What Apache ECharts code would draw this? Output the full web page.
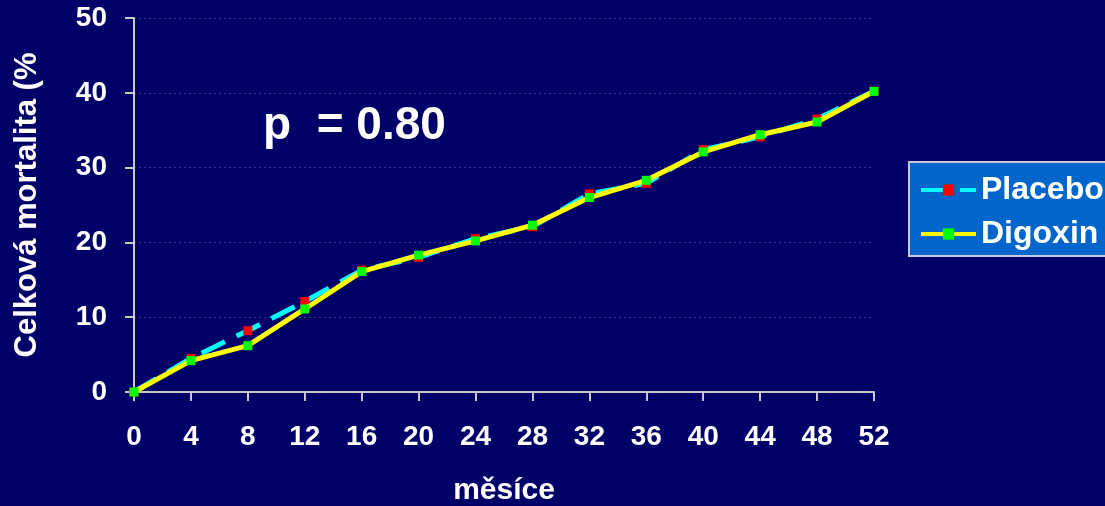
<!DOCTYPE html>
<html><head><meta charset="utf-8">
<script src="https://cdn.jsdelivr.net/npm/echarts@6/dist/echarts.min.js"></script>
<style>html,body{margin:0;padding:0;background:#000068;}#c{width:1105px;height:506px;}</style>
</head><body><div id="c"></div>
<script>
const months = [0,4,8,12,16,20,24,28,32,36,40,44,48,52];
const placebo = [0,4.5,8.2,12.1,16.3,18.0,20.5,22.1,26.5,27.9,32.4,34.1,36.5,40.2];
const digoxin = [0,4.2,6.2,11.1,16.1,18.3,20.2,22.3,26.0,28.3,32.1,34.4,36.1,40.2];
const yTicks = [0,10,20,30,40,50];
const pText = 'p  = 0.80';

const chart = echarts.init(document.getElementById('c'));
const font = '"Liberation Sans", Arial, sans-serif';
chart.setOption({
  backgroundColor: '#000068',
  animation: false,
  grid: {left: 134, right: 231, top: 18, bottom: 114, containLabel: false, outerBoundsMode: 'none'},
  graphic: [{type:'text', left: 263, top: 103, style:{text: pText, fill:'#fff', font:'bold 46px ' + font}}],
  legend: {
    orient: 'vertical', left: 909, top: 162,
    backgroundColor: '#0066CC', borderColor: '#C8C8D8', borderWidth: 2,
    padding: [12, 12, 6, 10], itemGap: 12, itemWidth: 55, itemHeight: 14,
    lineStyle: {width: 4},
    textStyle: {color:'#fff', fontSize: 32, fontWeight:'bold', fontFamily: font},
    data: ['Placebo','Digoxin']
  },
  xAxis: {
    type: 'value', min: 0, max: 52, interval: 4,
    name: 'měsíce', nameLocation: 'middle', nameGap: 84,
    nameTextStyle: {color:'#fff', fontSize: 30, fontWeight:'bold', fontFamily: font},
    axisLine: {lineStyle:{color:'#C8C8C8', width:2}},
    axisTick: {length: 9, lineStyle:{color:'#C8C8C8', width:2}},
    axisLabel: {color:'#fff', fontSize: 28, fontWeight:'bold', fontFamily: font, margin: 31},
    splitLine: {show:false}
  },
  yAxis: {
    type: 'value', min: 0, max: 50, interval: 10,
    name: 'Celková mortalita (%', nameLocation: 'middle', nameGap: 91, nameRotate: 90,
    nameTextStyle: {color:'#fff', fontSize: 31, fontWeight:'bold', fontFamily: font},
    axisLine: {show:true, lineStyle:{color:'#C8C8C8', width:2}},
    axisTick: {show:true, length: 9, lineStyle:{color:'#C8C8C8', width:2}},
    axisLabel: {color:'#fff', fontSize: 28, fontWeight:'bold', fontFamily: font, margin: 27},
    splitLine: {show:true, lineStyle:{color:'#3A3A8A', type:[2,3], width:1}}
  },
  series: [
    {name:'Placebo', type:'line', data: months.map((m,i)=>[m, placebo[i]]),
     symbol:'rect', symbolSize: 9, lineStyle:{color:'#00FFFF', width:5, type:[26,13]},
     itemStyle:{color:'#FF0000'}, z: 2},
    {name:'Digoxin', type:'line', data: months.map((m,i)=>[m, digoxin[i]]),
     symbol:'rect', symbolSize: 9, lineStyle:{color:'#FFFF00', width:5},
     itemStyle:{color:'#00FF00'}, z: 3}
  ]
});
</script></body></html>
